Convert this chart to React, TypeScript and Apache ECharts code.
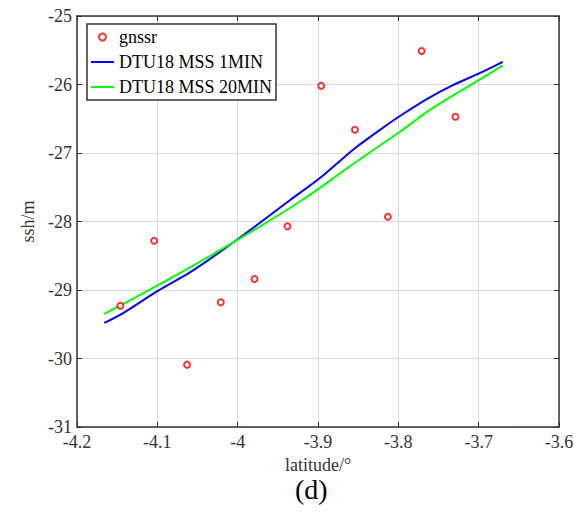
import React, { useEffect, useRef } from "react";
import * as echarts from "echarts";

const gnssrLat = [-4.146, -4.104, -4.063, -4.021, -3.979, -3.938, -3.896, -3.854, -3.813, -3.771, -3.729];
const gnssrSsh = [-29.23, -28.28, -30.09, -29.18, -28.84, -28.07, -26.02, -26.66, -27.93, -25.51, -26.47];

const mss1Lat = [-4.166, -4.143, -4.099, -4.059, -4.006, -3.935, -3.896, -3.854, -3.813, -3.798, -3.764, -3.732, -3.696, -3.67];
const mss1Ssh = [-29.48, -29.34, -29.01, -28.74, -28.31, -27.69, -27.35, -26.93, -26.58, -26.46, -26.21, -26.01, -25.82, -25.67];

const mss20Lat = [-4.166, -4.099, -4.006, -3.92, -3.855, -3.798, -3.757, -3.696, -3.67];
const mss20Ssh = [-29.35, -28.93, -28.31, -27.69, -27.15, -26.69, -26.34, -25.91, -25.72];

const seriesNames = ["gnssr", "DTU18 MSS 1MIN", "DTU18 MSS 20MIN"];
const xAxisName = "latitude/°";
const yAxisName = "ssh/m";
const panelLabel = "(d)";

const FONT = "Liberation Serif";
const FRAME = "#333";

export default function App() {
  const ref = useRef<HTMLDivElement>(null);
  useEffect(() => {
    if (!ref.current) return;
    const chart = echarts.init(ref.current, null, { renderer: "svg" });
    const zip = (a: number[], b: number[]) => a.map((v, i) => [v, b[i]]);
    const axisCommon = {
      type: "value" as const,
      axisLine: { show: true, onZero: false, lineStyle: { color: FRAME, width: 1.5 } },
      axisTick: { show: true, inside: true, length: 5, lineStyle: { color: FRAME, width: 1 } },
    };
    chart.setOption({
      animation: false,
      backgroundColor: "#fff",
      textStyle: { fontFamily: FONT },
      grid: { left: 77, right: 28, top: 16, bottom: 85 },
      xAxis: [
        {
          ...axisCommon,
          min: -4.2,
          max: -3.6,
          interval: 0.1,
          position: "bottom",
          name: xAxisName,
          nameLocation: "middle",
          nameGap: 25,
          nameTextStyle: { fontFamily: FONT, fontSize: 18, color: "#333" },
          axisLabel: { fontFamily: FONT, fontSize: 18, color: "#333", margin: 6 },
          splitLine: { show: true, lineStyle: { color: "#d9d9d9", width: 1 } },
        },
        {
          ...axisCommon,
          min: -4.2,
          max: -3.6,
          interval: 0.1,
          position: "top",
          axisLabel: { show: false },
          splitLine: { show: false },
        },
      ],
      yAxis: [
        {
          ...axisCommon,
          min: -31,
          max: -25,
          interval: 1,
          position: "left",
          name: yAxisName,
          nameLocation: "middle",
          nameGap: 37,
          nameTextStyle: { fontFamily: FONT, fontSize: 18, color: "#333" },
          axisLabel: { fontFamily: FONT, fontSize: 18, color: "#333", margin: 5 },
          splitLine: { show: true, lineStyle: { color: "#d9d9d9", width: 1 } },
        },
        {
          ...axisCommon,
          min: -31,
          max: -25,
          interval: 1,
          position: "right",
          axisLabel: { show: false },
          splitLine: { show: false },
        },
      ],
      legend: {
        left: 87,
        top: 24,
        orient: "vertical",
        padding: [4, 4, 4, 3],
        itemWidth: 23,
        itemHeight: 7,
        itemGap: 7,
        data: [
          { name: seriesNames[0] },
          { name: seriesNames[1], itemStyle: { opacity: 0 } },
          { name: seriesNames[2], itemStyle: { opacity: 0 } },
        ],
        backgroundColor: "#fff",
        borderColor: FRAME,
        borderWidth: 1.5,
        textStyle: { fontFamily: FONT, fontSize: 18, color: "#000", lineHeight: 18 },
      },
      series: [
        {
          name: seriesNames[0],
          type: "scatter",
          data: zip(gnssrLat, gnssrSsh),
          symbol: "emptyCircle",
          symbolSize: 6,
          itemStyle: { color: "#ff0000", borderColor: "#ff0000", borderWidth: 2 },
          z: 3,
        },
        {
          name: seriesNames[1],
          type: "line",
          data: zip(mss1Lat, mss1Ssh),
          symbol: "none",
          smooth: 0.3,
          lineStyle: { color: "#0000ff", width: 2 },
          itemStyle: { color: "#0000ff" },
        },
        {
          name: seriesNames[2],
          type: "line",
          data: zip(mss20Lat, mss20Ssh),
          symbol: "none",
          smooth: 0.3,
          lineStyle: { color: "#00ff00", width: 2 },
          itemStyle: { color: "#00ff00" },
        },
      ],
      graphic: [
        {
          type: "text",
          left: 295,
          top: 475,
          style: { text: panelLabel, fontFamily: FONT, fontSize: 28, fill: "#000" },
        },
      ],
    });
    return () => chart.dispose();
  }, []);
  return (
    <div
      ref={ref}
      style={{ position: "fixed", left: 0, top: 0, width: 587, height: 512, background: "#fff" }}
    />
  );
}
